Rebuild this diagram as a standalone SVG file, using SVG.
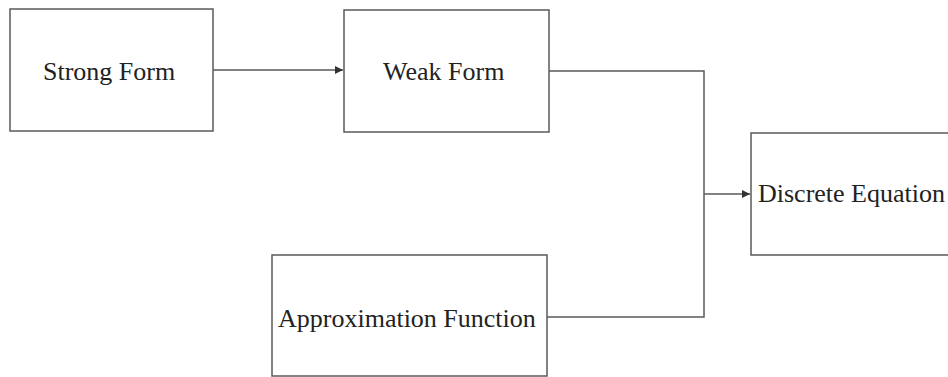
<svg xmlns="http://www.w3.org/2000/svg" width="948" height="377" viewBox="0 0 948 377">
<defs>
<style>
.box{fill:#fff;stroke:#5a5a5a;stroke-width:1.5}
.lbl{font-family:"Liberation Serif","Times New Roman",serif;font-size:26px;fill:#222}
.con{fill:none;stroke:#5a5a5a;stroke-width:1.5}
</style>
<marker id="ah" viewBox="0 0 10 10" refX="10" refY="5" markerWidth="8" markerHeight="8" markerUnits="userSpaceOnUse" orient="auto">
<path d="M0,0 L10,5 L0,10 z" fill="#333"/>
</marker>
</defs>
<rect width="948" height="377" fill="#fff"/>
<g id="strong-form">
<rect class="box" x="10" y="9" width="203" height="122"/>
<text class="lbl" x="43" y="80">Strong Form</text>
</g>
<g id="weak-form">
<rect class="box" x="344" y="10" width="205" height="122"/>
<text class="lbl" x="383" y="80">Weak Form</text>
</g>
<g id="discrete-equation">
<rect class="box" x="751" y="133" width="220" height="122"/>
<text class="lbl" x="758" y="202">Discrete Equation</text>
</g>
<g id="approximation-function">
<rect class="box" x="272" y="255" width="275" height="121"/>
<text class="lbl" x="278" y="327">Approximation Function</text>
</g>
<g id="connectors">
<line class="con" x1="213" y1="70" x2="343" y2="70" marker-end="url(#ah)"/>
<polyline class="con" points="549,71 704,71 704,317 547,317"/>
<line class="con" x1="704" y1="194" x2="750" y2="194" marker-end="url(#ah)"/>
</g>
</svg>
